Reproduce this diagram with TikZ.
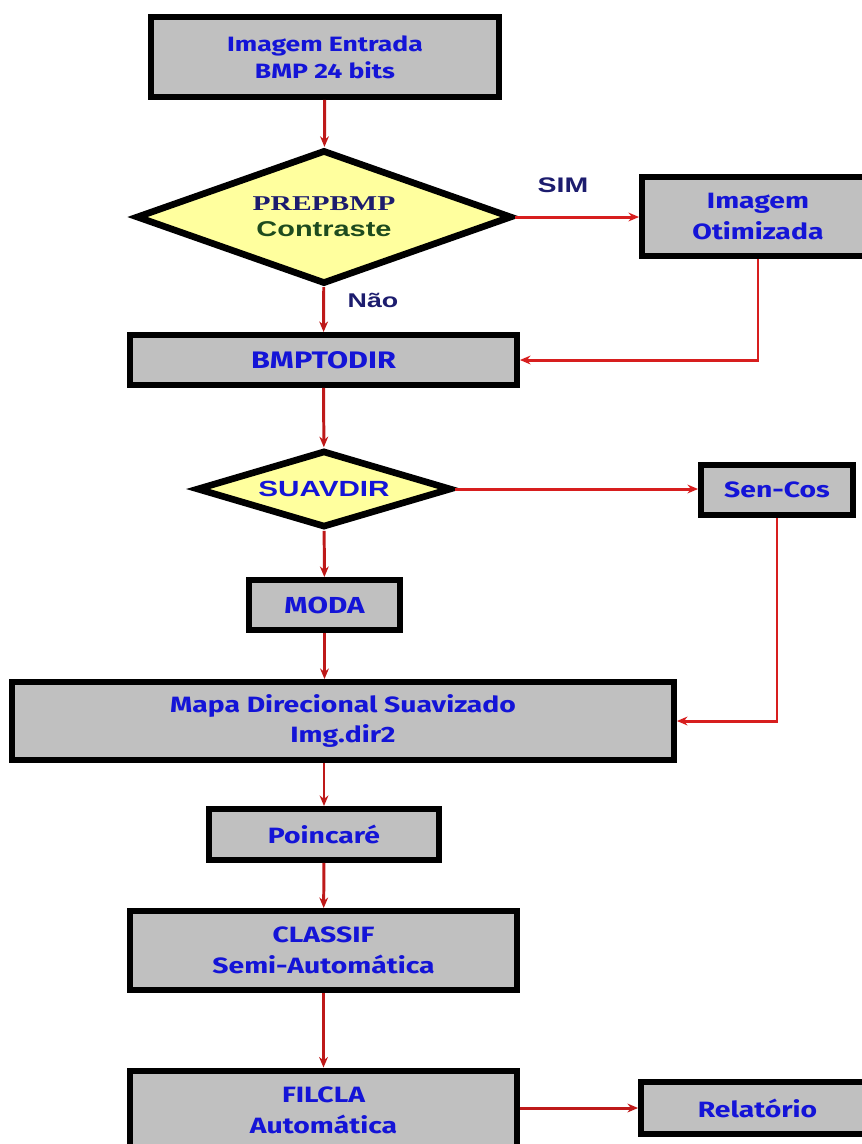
\documentclass[tikz,border=0pt]{standalone}
\usepackage{fontspec}
\usepackage{xcolor}
\usepackage{tikz}
\usetikzlibrary{arrows.meta, shapes.geometric}

% fonts: rounded sans for the boxes, Arial-like and Times-like for the tests
\newfontfamily\comicfont{Fira Sans}[FakeStretch=1.28]
\newfontfamily\arialfont{Liberation Sans}[FakeStretch=1.35]
\newfontfamily\timesfont{Liberation Serif}[FakeStretch=1.4]
\newcommand{\boxsize}{\fontsize{12.6pt}{17.6pt}\selectfont}

\definecolor{boxgray}{RGB}{192,192,192}
\definecolor{decyellow}{RGB}{255,255,158}
\definecolor{boxblue}{RGB}{20,20,215}
\definecolor{navyblue}{RGB}{28,28,110}
\definecolor{darkgreen}{RGB}{30,75,30}
\definecolor{flowred}{RGB}{190,25,25}
\definecolor{sidered}{RGB}{215,30,30}

\tikzset{
  procbox/.style={draw=black, line width=3.4pt, fill=boxgray, inner sep=0pt,
    align=center, text=boxblue, font=\comicfont\bfseries\boxsize},
  decision/.style={diamond, draw=black, line width=3.8pt, fill=decyellow,
    inner sep=0pt, align=center},
  flow/.style={draw=flowred, line width=1.7pt, -{Stealth[length=6pt,width=5pt]}},
  sideflow/.style={flow, draw=sidered},
  answer/.style={text=navyblue, font=\arialfont\bfseries\fontsize{12pt}{14pt}\selectfont}
}

\begin{document}
\begin{tikzpicture}[x=0.02cm, y=-0.02cm]
\clip (0,0) rectangle (862,1144);

% main column
\node[procbox, minimum width=6.96cm, minimum height=1.6cm,
  font=\comicfont\bfseries\fontsize{11.8pt}{15.5pt}\selectfont] (ent) at (325,57)
  {Imagem Entrada\\BMP 24 bits};
\node[decision, aspect=2.8, minimum width=7.52cm, minimum height=2.68cm] (prep) at (324,217)
  {\textcolor{navyblue}{\timesfont\bfseries\fontsize{12pt}{14pt}\selectfont PREPBMP}\\[3pt]
   \textcolor{darkgreen}{\arialfont\bfseries\fontsize{12.2pt}{14pt}\selectfont Contraste}};
\node[procbox, minimum width=4.64cm, minimum height=1.58cm] (otim) at (758,216.5)
  {Imagem\\Otimizada};
\node[procbox, minimum width=7.74cm, minimum height=1.0cm,
  font=\comicfont\bfseries\fontsize{13.6pt}{16pt}\selectfont] (bmp) at (323.5,360) {BMPTODIR};
\node[decision, aspect=3.3, minimum width=5.1cm, minimum height=1.54cm,
  text=boxblue, font=\arialfont\bfseries\fontsize{12.5pt}{14pt}\selectfont] (suav) at (324,489) {SUAVDIR};
\node[procbox, minimum width=3.04cm, minimum height=1.0cm] (sencos) at (777,490) {Sen-Cos};
\node[procbox, minimum width=3.02cm, minimum height=1.0cm,
  font=\comicfont\bfseries\fontsize{13.2pt}{16pt}\selectfont] (moda) at (324.5,605) {MODA};
\node[procbox, minimum width=13.24cm, minimum height=1.56cm] (mapa) at (343,721)
  {Mapa Direcional Suavizado\\Img.dir2};
\node[procbox, minimum width=4.6cm, minimum height=1.02cm] (poinc) at (324,834.5) {Poincaré};
\node[procbox, minimum width=7.74cm, minimum height=1.58cm] (classif) at (323.5,950.5)
  {CLASSIF\\Semi-Automática};
\node[procbox, minimum width=7.74cm, minimum height=1.58cm] (filcla) at (323.5,1110)
  {FILCLA\\Automática};
\node[procbox, minimum width=4.66cm, minimum height=1.04cm] (relat) at (757.5,1108) {Relatório};

% answers of the first test
\node[answer] (sim) at (563,185) {SIM};
\node[answer, font=\arialfont\bfseries\fontsize{11.3pt}{13pt}\selectfont] (nao) at (373,300) {Não};

% connectors
\draw[flow] (ent) -- (prep);
\draw[sideflow] (prep.east) -- (otim.west |- prep.east);
\draw[flow] (prep) -- (bmp);
\draw[sideflow] (otim.south) |- (bmp.east);
\draw[flow] (bmp) -- (suav);
\draw[sideflow] (suav.east) -- (sencos.west |- suav.east);
\draw[sideflow] (sencos.south) |- (mapa.east);
\draw[flow] (suav) -- (moda);
\draw[flow] (moda) -- (moda |- mapa.north);
\draw[flow] (poinc |- mapa.south) -- (poinc);
\draw[flow] (poinc) -- (classif);
\draw[flow] (classif) -- (filcla);
\draw[flow] (filcla.east |- relat.west) -- (relat.west);
\end{tikzpicture}
\end{document}
